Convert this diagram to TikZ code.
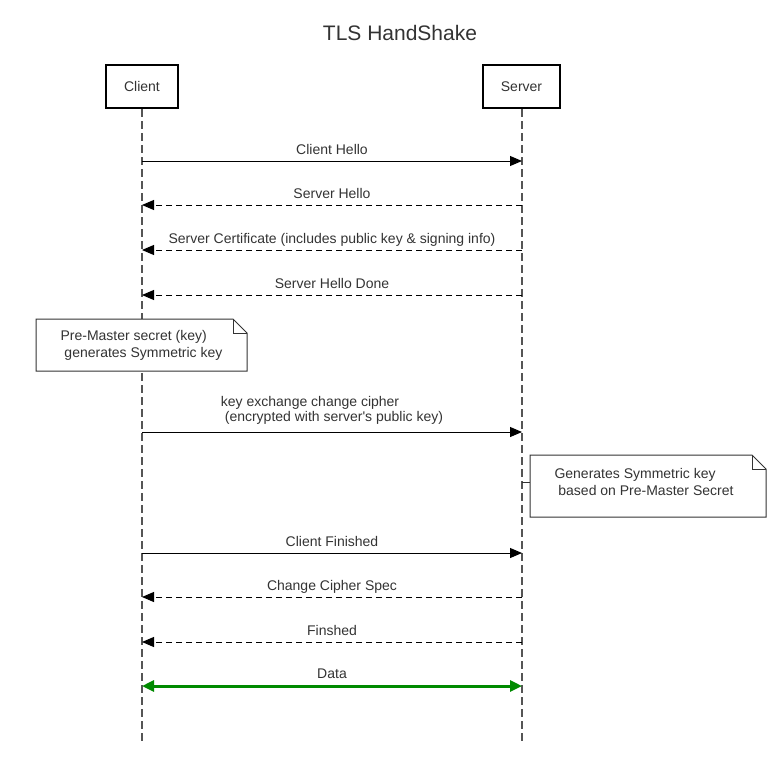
\documentclass[tikz,border=0pt]{standalone}
\usepackage{fontspec}
\setmainfont{Liberation Sans}[Ligatures=TeXOff]
\usetikzlibrary{arrows.meta}
\definecolor{txt}{HTML}{333333}
\definecolor{dgreen}{HTML}{008A00}
\definecolor{lifegray}{HTML}{555555}
\begin{document}
\begin{tikzpicture}[x=1pt,y=-1pt,
  every node/.style={font=\fontsize{14}{16}\selectfont, text=txt},
  actor/.style={draw=black, line width=2pt, minimum height=43pt, inner sep=0pt, fill=white},
  life/.style={draw=lifegray, line width=1.2pt, dash pattern=on 8pt off 4pt},
  msg/.style={draw=black, line width=1pt, -{Triangle[length=12pt,width=10pt]}},
  reply/.style={msg, dash pattern=on 6pt off 4pt},
  lbl/.style={anchor=base, yshift=7pt},
  noteline/.style={draw=black!80, line width=1pt, fill=white},
  notetext/.style={align=left, inner sep=0pt, font=\fontsize{14}{17}\selectfont},
  data/.style={draw=dgreen, line width=3pt, {Triangle[length=12pt,width=11pt]}-{Triangle[length=12pt,width=11pt]}},
]
\useasboundingbox (0,0) rectangle (775,763);
\node[font=\fontsize{21}{24}\selectfont] (title) at (400,33) {TLS HandShake};
\node[actor, minimum width=72pt] (client) at (142,86.5) {Client};
\node[actor, minimum width=77pt] (server) at (521.5,86.5) {Server};
% lifelines
\coordinate (cend) at (142,742);
\coordinate (send) at (522,742);
\draw[life] (client.south) -- (cend);
\draw[life] (server.south -| send) -- (send);
% message anchor points
\foreach \n/\y in {1/161,2/205,3/250,4/295,5/432,6/482,7/553,8/597,9/642,10/686}{
  \coordinate (c\n) at (142,\y);
  \coordinate (s\n) at (522,\y);
}
\draw[msg] (c1) -- node[lbl] {Client Hello} (s1);
\draw[reply] (s2) -- node[lbl] {Server Hello} (c2);
\draw[reply] (s3) -- node[lbl] {Server Certificate (includes public key \& signing info)} (c3);
\draw[reply] (s4) -- node[lbl] {Server Hello Done} (c4);
% note 1
\draw[noteline] (36,319) -- (233,319) -- (247,333) -- (247,371) -- (36,371) -- cycle;
\draw[noteline, fill=none] (233,319) -- (233,333) -- (247,333);
\node[notetext] (n1) at (141.5,345) {Pre-Master secret (key)\\\ generates Symmetric key};
% key exchange
\draw[msg] (c5) -- node[anchor=base, yshift=11pt, align=left, inner sep=0pt, font=\fontsize{14}{15}\selectfont] {key exchange change cipher\\\ (encrypted with server's public key)} (s5);
% note 2
\draw[noteline] (530,455) -- (752,455) -- (766,469) -- (766,517) -- (530,517) -- cycle;
\draw[noteline, fill=none] (752,455) -- (752,469) -- (766,469);
\coordinate (n2w) at (530,482);
\draw[draw=black!80, line width=1pt] (s6) -- (n2w);
\node[notetext] (n2) at (644,481.5) {Generates Symmetric key\\\ based on Pre-Master Secret};
% rest
\draw[msg] (c7) -- node[lbl] {Client Finished} (s7);
\draw[reply] (s8) -- node[lbl] {Change Cipher Spec} (c8);
\draw[reply] (s9) -- node[lbl] {Finshed} (c9);
\draw[data] (c10) -- node[lbl, yshift=1pt] {Data} (s10);
\end{tikzpicture}
\end{document}
